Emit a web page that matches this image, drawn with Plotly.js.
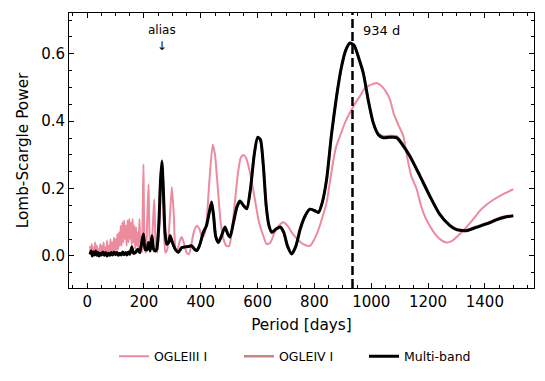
<!DOCTYPE html>
<html>
<head>
<meta charset="utf-8">
<script src="https://cdn.plot.ly/plotly-3.0.1.min.js"></script>
<style>
  html, body { margin: 0; padding: 0; background: #fff; }
  #chart { width: 545px; height: 381px; }
</style>
</head>
<body>
<div id="chart"></div>
<script>
// OGLE-III I-band periodogram
var periodIII = [10, 13, 16, 19, 22, 25, 28, 31, 34, 37, 40, 43, 46, 49, 52, 55, 58, 61, 64, 67,
    70, 73, 76, 79, 82, 85, 88, 91, 94, 97, 100, 103, 106, 109, 112, 115, 118, 121, 124, 127,
    130, 133, 136, 139, 142, 145, 148, 151, 154, 157, 160, 163, 166, 169, 172, 175, 178, 181, 184, 187,
    190, 193, 198, 203, 207, 211, 216, 221, 225, 230, 236, 241, 247, 255, 263, 270, 275, 282, 290, 298,
    305, 312, 318, 326, 333, 340, 350, 358, 366, 375, 386, 395, 403, 411, 420, 430, 442, 450, 460, 470,
    480, 490, 500, 510, 520, 530, 540, 550, 560, 575, 590, 605, 620, 632, 645, 660, 675, 690, 705, 720,
    740, 760, 784, 800, 815, 830, 843, 860, 875, 890, 910, 925, 945, 960, 975, 990, 1005, 1019, 1035, 1050,
    1066, 1080, 1095, 1113, 1125, 1140, 1160, 1175, 1190, 1206, 1225, 1245, 1265, 1285, 1312, 1340, 1360, 1382, 1410, 1440,
    1470, 1500];
var powerIII = [0.03, 0.005, 0.035, 0.01, 0.025, 0.002, 0.04, 0.008, 0.03, 0.003, 0.02, 0.01, 0.035, 0.005, 0.03, 0.01, 0.04, 0.005, 0.025, 0.008,
    0.045, 0.01, 0.03, 0.005, 0.05, 0.015, 0.04, 0.01, 0.055, 0.02, 0.05, 0.01, 0.065, 0.02, 0.07, 0.03, 0.09, 0.03, 0.1, 0.04,
    0.105, 0.05, 0.09, 0.03, 0.105, 0.04, 0.11, 0.05, 0.1, 0.03, 0.11, 0.04, 0.09, 0.02, 0.085, 0.03, 0.07, 0.02, 0.11, 0.04,
    0.06, 0.01, 0.272, 0.02, 0.01, 0.1, 0.213, 0.03, 0.02, 0.07, 0.168, 0.04, 0.01, 0.1, 0.287, 0.1, 0.01, 0.02, 0.1, 0.205,
    0.12, 0.02, 0.02, 0.045, 0.056, 0.04, 0.01, 0.005, 0.03, 0.07, 0.09, 0.08, 0.06, 0.06, 0.1, 0.22, 0.331, 0.3, 0.2, 0.1,
    0.05, 0.03, 0.03, 0.08, 0.16, 0.24, 0.29, 0.3, 0.29, 0.24, 0.17, 0.1, 0.06, 0.035, 0.04, 0.07, 0.09, 0.1, 0.09, 0.07,
    0.05, 0.035, 0.03, 0.05, 0.08, 0.12, 0.159, 0.25, 0.32, 0.356, 0.4, 0.425, 0.455, 0.474, 0.495, 0.505, 0.51, 0.513, 0.505, 0.49,
    0.464, 0.42, 0.39, 0.356, 0.3, 0.24, 0.198, 0.15, 0.115, 0.09, 0.065, 0.048, 0.04, 0.045, 0.065, 0.09, 0.11, 0.134, 0.155, 0.172,
    0.186, 0.198];

// Multi-band and OGLE-IV I-band periodograms share one period grid
var periodMB = [10, 14, 18, 22, 26, 30, 34, 38, 42, 46, 50, 55, 60, 65, 70, 75, 80, 85, 90, 95,
    100, 105, 110, 115, 120, 125, 130, 135, 140, 145, 150, 157, 163, 170, 178, 185, 190, 198, 204, 210,
    216, 222, 228, 234, 240, 245, 252, 258, 263, 268, 274, 280, 287, 292, 300, 310, 321, 333, 345, 356,
    368, 378, 386, 395, 409, 420, 430, 438, 445, 452, 462, 473, 485, 495, 503, 515, 527, 538, 550, 562,
    575, 588, 600, 610, 620, 630, 640, 650, 665, 679, 692, 705, 720, 735, 750, 768, 784, 800, 814, 828,
    843, 860, 878, 895, 910, 925, 940, 955, 972, 990, 1007, 1025, 1042, 1065, 1089, 1110, 1136, 1170, 1206, 1240,
    1277, 1300, 1335, 1370, 1406, 1440, 1470, 1500];
var powerMB = [0.005, 0.015, 0.0, 0.012, 0.003, 0.015, 0.002, 0.01, 0.0, 0.008, 0.003, 0.012, 0.002, 0.01, 0.0, 0.008, 0.002, 0.01, 0.003, 0.012,
    0.004, 0.01, 0.002, 0.008, 0.003, 0.012, 0.004, 0.01, 0.003, 0.012, 0.005, 0.027, 0.008, 0.01, 0.02, 0.01, 0.03, 0.065, 0.02, 0.018,
    0.04, 0.015, 0.06, 0.02, 0.015, 0.02, 0.09, 0.22, 0.28, 0.2, 0.07, 0.035, 0.04, 0.06, 0.04, 0.02, 0.011, 0.025, 0.027, 0.028,
    0.03, 0.02, 0.016, 0.03, 0.07, 0.09, 0.13, 0.16, 0.12, 0.06, 0.04, 0.06, 0.086, 0.065, 0.056, 0.1, 0.145, 0.163, 0.15, 0.14,
    0.2, 0.3, 0.352, 0.345, 0.27, 0.15, 0.09, 0.07, 0.08, 0.086, 0.07, 0.03, 0.006, 0.03, 0.08, 0.12, 0.139, 0.135, 0.129, 0.16,
    0.228, 0.36, 0.474, 0.56, 0.61, 0.632, 0.625, 0.59, 0.543, 0.46, 0.395, 0.36, 0.351, 0.352, 0.351, 0.33, 0.296, 0.24, 0.178, 0.125,
    0.09, 0.078, 0.075, 0.085, 0.095, 0.107, 0.115, 0.119];
var powerIV = [0.005, 0.014, 0.001, 0.012, 0.003, 0.014, 0.002, 0.01, 0.001, 0.008, 0.003, 0.012, 0.002, 0.01, 0.001, 0.008, 0.002, 0.01, 0.003, 0.012,
    0.004, 0.01, 0.002, 0.008, 0.003, 0.012, 0.004, 0.01, 0.003, 0.012, 0.005, 0.026, 0.008, 0.01, 0.02, 0.01, 0.03, 0.064, 0.02, 0.018,
    0.04, 0.015, 0.06, 0.02, 0.015, 0.02, 0.09, 0.22, 0.279, 0.2, 0.07, 0.035, 0.04, 0.06, 0.04, 0.02, 0.011, 0.025, 0.027, 0.028,
    0.03, 0.02, 0.016, 0.03, 0.07, 0.09, 0.13, 0.159, 0.12, 0.06, 0.04, 0.06, 0.086, 0.065, 0.056, 0.1, 0.145, 0.163, 0.15, 0.14,
    0.2, 0.3, 0.351, 0.345, 0.27, 0.15, 0.09, 0.07, 0.08, 0.086, 0.07, 0.03, 0.007, 0.03, 0.08, 0.12, 0.139, 0.135, 0.129, 0.16,
    0.228, 0.36, 0.474, 0.56, 0.61, 0.631, 0.624, 0.59, 0.543, 0.46, 0.397, 0.363, 0.355, 0.356, 0.355, 0.334, 0.298, 0.242, 0.179, 0.126,
    0.091, 0.08, 0.077, 0.087, 0.097, 0.109, 0.117, 0.121];

var bestPeriod = 934;
var aliasPeriod = 264;

var FONT = 'DejaVu Sans, sans-serif';

var traces = [
    {
        x: periodIII, y: powerIII, type: 'scatter', mode: 'lines', name: 'OGLEIII I',
        line: {color: '#ec8a9e', width: 2, shape: 'spline', smoothing: 0.6}
    },
    {
        x: periodMB, y: powerIV, type: 'scatter', mode: 'lines', name: 'OGLEIV I',
        line: {color: '#c98484', width: 2.5, shape: 'spline', smoothing: 0.6}
    },
    {
        x: periodMB, y: powerMB, type: 'scatter', mode: 'lines', name: 'Multi-band',
        line: {color: '#000000', width: 3, shape: 'spline', smoothing: 0.6}
    }
];

var axisCommon = {
    showgrid: false,
    zeroline: false,
    showline: true,
    linecolor: '#000',
    linewidth: 1,
    mirror: 'allticks',
    ticks: 'inside',
    ticklen: 5,
    tickwidth: 1,
    tickcolor: '#000',
    tickfont: {family: FONT, size: 15, color: '#000'}
};

var layout = {
    width: 545,
    height: 381,
    margin: {l: 69, r: 11, t: 13, b: 92},
    paper_bgcolor: '#fff',
    plot_bgcolor: '#fff',
    font: {family: FONT, color: '#000'},
    showlegend: true,
    legend: {
        orientation: 'h',
        x: 0.5, xanchor: 'center',
        y: -0.245, yanchor: 'middle',
        font: {family: FONT, size: 12.5, color: '#000'},
        entrywidth: 80,
        entrywidthmode: 'pixels'
    },
    xaxis: Object.assign({}, axisCommon, {
        range: [-64, 1573],
        tickvals: [0, 200, 400, 600, 800, 1000, 1200, 1400],
        minor: {dtick: 50, tick0: 0, ticks: 'inside', ticklen: 3, tickcolor: '#000', tickwidth: 1},
        title: {text: 'Period [days]', font: {family: FONT, size: 15.3}, standoff: 9}
    }),
    yaxis: Object.assign({}, axisCommon, {
        range: [-0.095, 0.721],
        tickvals: [0, 0.2, 0.4, 0.6],
        ticktext: ['0.0', '0.2', '0.4', '0.6'],
        minor: {dtick: 0.05, tick0: 0, ticks: 'inside', ticklen: 3, tickcolor: '#000', tickwidth: 1},
        title: {text: 'Lomb-Scargle Power', font: {family: FONT, size: 15.3}, standoff: 8}
    }),
    shapes: [{
        type: 'line', xref: 'x', yref: 'paper',
        x0: bestPeriod, x1: bestPeriod, y0: 0, y1: 1,
        line: {color: '#000', width: 2.5, dash: '9px,4px'}
    }],
    annotations: [
        {x: aliasPeriod, y: 0.648, xref: 'x', yref: 'y', text: 'alias<br>↓', showarrow: false,
            font: {family: FONT, size: 12, color: '#000'}, xanchor: 'center', yanchor: 'middle'},
        {x: bestPeriod + 30, y: 0.668, xref: 'x', yref: 'y', text: '934 d', showarrow: false,
            font: {family: FONT, size: 13, color: '#000'}, xanchor: 'left', yanchor: 'middle'}
    ]
};

Plotly.newPlot('chart', traces, layout, {displayModeBar: false, staticPlot: true});
</script>
</body>
</html>
